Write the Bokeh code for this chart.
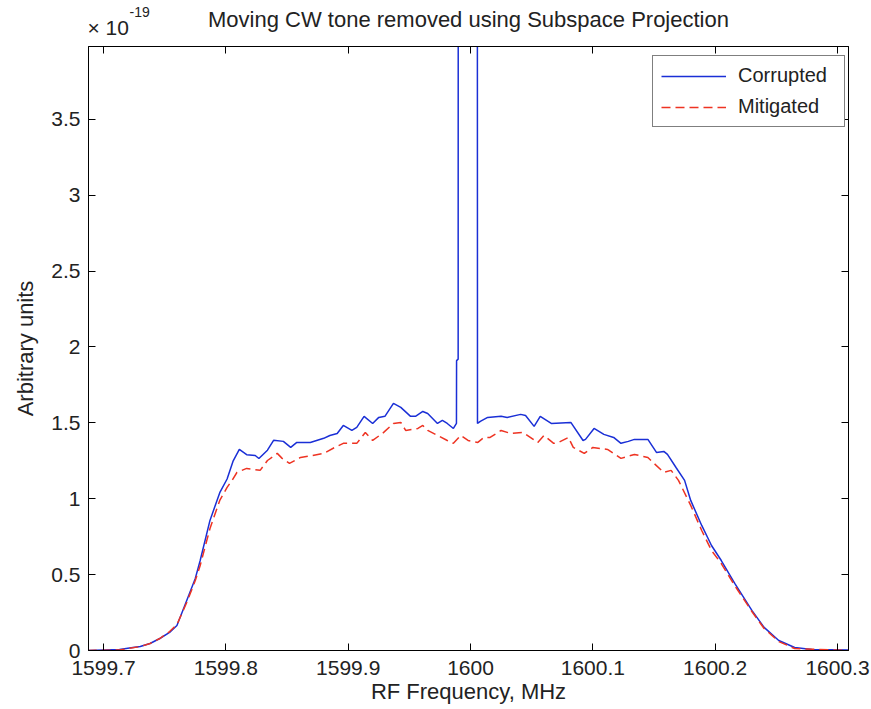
from bokeh.plotting import figure
from bokeh.models import (Range1d, LinearAxis, FixedTicker, CustomJSTickFormatter,
                          Legend, LegendItem)
from bokeh.layouts import column
from bokeh.core.properties import value
from bokeh.embed import file_html
from bokeh.resources import INLINE

# Values in units of 1e-19 (arbitrary units)
freq_corrupted = [1599.687, 1599.713, 1599.724, 1599.730, 1599.738, 1599.746, 1599.754, 1599.760,
                  1599.768, 1599.775, 1599.779, 1599.787, 1599.795, 1599.801, 1599.806, 1599.811,
                  1599.817, 1599.824, 1599.827, 1599.834, 1599.839, 1599.847, 1599.853, 1599.858,
                  1599.869, 1599.880, 1599.885, 1599.891, 1599.896, 1599.903, 1599.907, 1599.913,
                  1599.920, 1599.925, 1599.930, 1599.937, 1599.943, 1599.951, 1599.955, 1599.961,
                  1599.965, 1599.973, 1599.977, 1599.981, 1599.986, 1599.9885, 1599.9886, 1599.9899,
                  1599.9900, 1599.995, 1600.000, 1600.0055, 1600.0057, 1600.008, 1600.014, 1600.025,
                  1600.030, 1600.041, 1600.045, 1600.052, 1600.057, 1600.066, 1600.082, 1600.092,
                  1600.094, 1600.101, 1600.109, 1600.117, 1600.123, 1600.129, 1600.134, 1600.145,
                  1600.152, 1600.158, 1600.161, 1600.168, 1600.175, 1600.180, 1600.189, 1600.197,
                  1600.205, 1600.216, 1600.230, 1600.240, 1600.252, 1600.265, 1600.279, 1600.310]
corrupted = [0.0, 0.007, 0.02, 0.026, 0.046, 0.079, 0.119, 0.165,
             0.33, 0.475, 0.593, 0.857, 1.04, 1.13, 1.25, 1.325,
             1.29, 1.285, 1.265, 1.32, 1.385, 1.378, 1.338, 1.371,
             1.371, 1.398, 1.417, 1.43, 1.483, 1.45, 1.47, 1.543,
             1.496, 1.536, 1.543, 1.628, 1.602, 1.543, 1.543, 1.575,
             1.562, 1.496, 1.516, 1.496, 1.463, 1.496, 1.91, 1.92,
             6.5, 9.0, 9.5, 7.0, 1.496, 1.51, 1.536, 1.543,
             1.536, 1.556, 1.549, 1.477, 1.543, 1.496, 1.503, 1.384,
             1.391, 1.463, 1.424, 1.404, 1.365, 1.378, 1.391, 1.391,
             1.305, 1.312, 1.292, 1.206, 1.121, 0.989, 0.824, 0.692,
             0.593, 0.442, 0.264, 0.152, 0.066, 0.02, 0.007, 0.003]

freq_mitigated = [1599.687, 1599.713, 1599.730, 1599.738, 1599.746, 1599.754, 1599.760, 1599.768,
                  1599.775, 1599.779, 1599.787, 1599.795, 1599.801, 1599.805, 1599.809, 1599.817,
                  1599.828, 1599.834, 1599.842, 1599.846, 1599.852, 1599.861, 1599.871, 1599.880,
                  1599.889, 1599.896, 1599.907, 1599.914, 1599.920, 1599.929, 1599.937, 1599.943,
                  1599.947, 1599.957, 1599.961, 1599.965, 1599.973, 1599.981, 1599.986, 1599.992,
                  1599.998, 1600.006, 1600.011, 1600.016, 1600.025, 1600.033, 1600.043, 1600.055,
                  1600.060, 1600.068, 1600.072, 1600.080, 1600.084, 1600.093, 1600.100, 1600.112,
                  1600.123, 1600.134, 1600.145, 1600.150, 1600.158, 1600.164, 1600.170, 1600.180,
                  1600.189, 1600.197, 1600.205, 1600.216, 1600.230, 1600.240, 1600.252, 1600.265,
                  1600.310]
mitigated = [0.0, 0.003, 0.026, 0.046, 0.079, 0.125, 0.171, 0.316,
             0.461, 0.56, 0.804, 0.989, 1.075, 1.12, 1.173, 1.2,
             1.187, 1.252, 1.299, 1.266, 1.233, 1.272, 1.285, 1.299,
             1.338, 1.365, 1.365, 1.437, 1.384, 1.437, 1.496, 1.503,
             1.45, 1.463, 1.483, 1.45, 1.417, 1.384, 1.365, 1.417,
             1.384, 1.371, 1.404, 1.404, 1.45, 1.43, 1.437, 1.371,
             1.417, 1.365, 1.371, 1.404, 1.338, 1.299, 1.338, 1.325,
             1.266, 1.292, 1.272, 1.233, 1.173, 1.187, 1.121, 0.956,
             0.791, 0.659, 0.573, 0.428, 0.257, 0.145, 0.059, 0.013,
             0.0]

x_ticks = [1599.7, 1599.8, 1599.9, 1600.0, 1600.1, 1600.2, 1600.3]
y_ticks = [0, 0.5, 1.0, 1.5, 2.0, 2.5, 3.0, 3.5]
title_text = "Moving CW tone removed using Subspace Projection"
scale_text = "\u00d7 10"
scale_exp = "-19"

FONT = "Liberation Sans"
TXT = "#222222"
W = 871
HEAD_H = 46
FRAME_L, FRAME_R = 88, 848   # frame edges in page pixels (header shares them)

# ---- header strip (title and exponent multiplier), coordinates are page pixels ----
head = figure(width=W, height=HEAD_H, output_backend="svg", toolbar_location=None,
              x_range=Range1d(FRAME_L, FRAME_R), y_range=Range1d(0, HEAD_H),
              x_axis_type=None, y_axis_type=None, min_border=0)
head.outline_line_color = None
head.grid.visible = False
head.background_fill_color = "white"
head.border_fill_color = "white"
head.text(x=[(FRAME_L + FRAME_R) / 2], y=[HEAD_H - 19], text=[title_text], text_align="center",
          text_baseline="middle", text_font=value(FONT), text_font_size="22px", text_color=TXT)
head.text(x=[FRAME_L - 1], y=[HEAD_H - 27], text=[scale_text], text_align="left",
          text_baseline="middle", text_font=value(FONT), text_font_size="21px", text_color=TXT)
head.text(x=[FRAME_L + 41], y=[HEAD_H - 11], text=[scale_exp], text_align="left",
          text_baseline="middle", text_font=value(FONT), text_font_size="14px", text_color=TXT)

# ---- main plot ----
p = figure(width=W, height=709 - HEAD_H, output_backend="svg", toolbar_location=None,
           x_range=Range1d(1599.6877, 1600.309), y_range=Range1d(0, 3.98),
           min_border_left=FRAME_L, min_border_right=W - FRAME_R, min_border_top=0,
           min_border_bottom=59)
p.background_fill_color = "white"
p.border_fill_color = "white"
p.grid.visible = False
p.outline_line_color = "black"
p.outline_line_width = 1

fmt = CustomJSTickFormatter(code="return (Math.round(tick*10)/10).toString();")
blank = CustomJSTickFormatter(code="return '';")

for ax, ticks in ((p.xaxis[0], x_ticks), (p.yaxis[0], y_ticks)):
    ax.ticker = FixedTicker(ticks=ticks)
    ax.formatter = fmt
    ax.major_tick_in = 7
    ax.major_tick_out = 0
    ax.minor_tick_line_color = None
    ax.axis_line_color = "black"
    ax.major_tick_line_color = "black"
    ax.major_label_text_font = FONT
    ax.major_label_text_font_size = "21px"
    ax.major_label_text_color = TXT
    ax.axis_label_text_font = FONT
    ax.axis_label_text_font_size = "22px"
    ax.axis_label_text_font_style = "normal"
    ax.axis_label_text_color = TXT

p.xaxis[0].axis_label = "RF Frequency, MHz"
p.xaxis[0].major_label_standoff = 10
p.xaxis[0].axis_label_standoff = 1
p.yaxis[0].axis_label = "Arbitrary units"
p.yaxis[0].major_label_standoff = 8
p.yaxis[0].axis_label_standoff = 10

top_ax = LinearAxis(ticker=FixedTicker(ticks=x_ticks), formatter=blank,
                    major_tick_in=7, major_tick_out=0, minor_tick_line_color=None,
                    major_label_standoff=0, major_label_text_font_size="1px")
right_ax = LinearAxis(ticker=FixedTicker(ticks=y_ticks), formatter=blank,
                      major_tick_in=7, major_tick_out=0, minor_tick_line_color=None,
                      major_label_standoff=0, major_label_text_font_size="1px")
p.add_layout(top_ax, "above")
p.add_layout(right_ax, "right")

r1 = p.line(freq_corrupted, corrupted, line_color="#1a2fd6", line_width=1.5)
r2 = p.line(freq_mitigated, mitigated, line_color="#ee3322", line_width=1.5, line_dash="9 5")

legend = Legend(items=[LegendItem(label="Corrupted", renderers=[r1]),
                       LegendItem(label="Mitigated", renderers=[r2])],
                location=(564, 523), orientation="vertical",
                border_line_color="black", border_line_width=1,
                background_fill_color="white", background_fill_alpha=1.0,
                label_text_font=FONT, label_text_font_size="20px", label_text_color=TXT,
                glyph_width=65, glyph_height=20, label_height=20, label_width=98,
                label_standoff=12, spacing=8, padding=8, margin=0)
p.add_layout(legend)

open("out.html", "w").write(file_html(column(head, p, spacing=0), INLINE))
